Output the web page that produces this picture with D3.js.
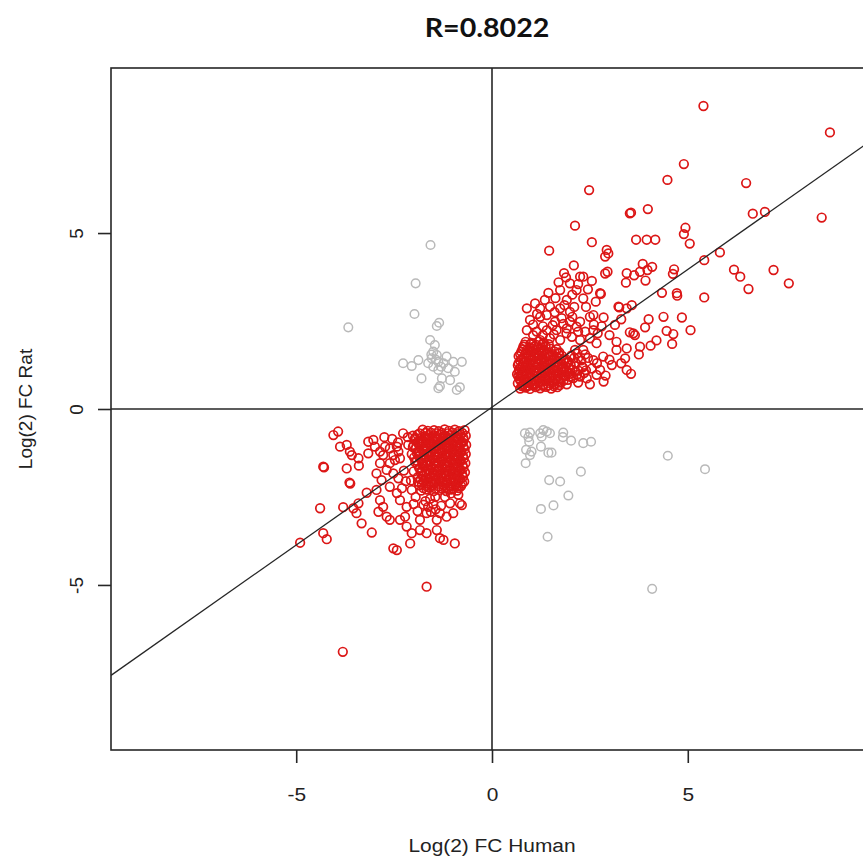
<!DOCTYPE html>
<html>
<head>
<meta charset="utf-8">
<script src="https://cdn.jsdelivr.net/npm/d3@7"></script>
<style>
  body { margin: 0; background: #fff; }
  svg { display: block; }
</style>
</head>
<body>
<svg width="863" height="857"></svg>
<script>
// [log2 FC human, log2 FC rat]
// red = same direction in both species, grey = opposite direction
var upperCore = [
  [0.72,0.58],[0.86,0.61],[0.97,0.57],[1.11,0.62],[1.23,0.59],[1.38,0.63],[1.51,0.58],[1.67,0.62],
  [0.66,0.73],[0.80,0.70],[0.92,0.75],[1.06,0.71],[1.19,0.74],[1.30,0.69],[1.46,0.74],[1.59,0.71],[1.75,0.75],[1.91,0.70],
  [0.70,0.86],[0.83,0.83],[0.95,0.88],[1.09,0.84],[1.20,0.87],[1.36,0.83],[1.47,0.88],[1.63,0.84],[1.76,0.87],[1.94,0.83],[2.08,0.88],
  [0.64,0.99],[0.78,0.96],[0.89,1.00],[1.03,0.97],[1.14,1.01],[1.29,0.96],[1.41,1.00],[1.57,0.97],[1.69,1.01],[1.86,0.96],[1.99,1.00],[2.17,0.97],
  [0.69,1.11],[0.82,1.08],[0.93,1.12],[1.08,1.09],[1.21,1.13],[1.32,1.08],[1.48,1.12],[1.60,1.09],[1.77,1.13],[1.90,1.08],[2.06,1.12],[2.21,1.09],
  [0.66,1.24],[0.79,1.21],[0.90,1.25],[1.05,1.22],[1.16,1.26],[1.31,1.21],[1.43,1.25],[1.59,1.22],[1.71,1.26],[1.88,1.21],[2.01,1.25],
  [0.72,1.37],[0.84,1.34],[0.99,1.38],[1.11,1.35],[1.26,1.38],[1.38,1.34],[1.54,1.38],[1.66,1.35],[1.83,1.38],[1.96,1.34],
  [0.68,1.50],[0.82,1.47],[0.93,1.51],[1.08,1.48],[1.20,1.52],[1.36,1.47],[1.49,1.51],[1.65,1.48],[1.79,1.51],
  [0.75,1.63],[0.87,1.60],[1.02,1.64],[1.14,1.61],[1.30,1.64],[1.43,1.60],[1.59,1.64],[1.72,1.61],
  [0.80,1.77],[0.96,1.74],[1.08,1.78],[1.25,1.75],[1.37,1.78],
  [0.86,1.91],[1.01,1.88],[1.19,1.92],[1.32,1.89],
  [0.76,0.65],[0.90,0.66],[1.02,0.68],[1.16,0.66],[0.74,0.92],[0.87,0.93],[1.00,0.92],[0.76,1.04],
  [0.98,1.05],[1.26,1.04],[0.85,1.17],[1.12,1.18],[0.95,1.30],[1.20,1.31],
  [0.79,0.67],[0.93,0.66],[1.08,0.68],[1.30,0.66],[1.44,0.67],[1.58,0.65],[1.73,0.68],
  [0.73,0.80],[0.87,0.79],[1.00,0.81],[1.13,0.80],[1.26,0.79],[1.40,0.81],[1.53,0.80],[1.69,0.79],[1.83,0.81],
  [0.67,0.93],[1.13,0.92],[1.25,0.94],[1.41,0.93],[1.54,0.92],[1.70,0.94],[1.85,0.93],[2.01,0.92],
  [0.70,1.05],[0.84,1.04],[1.11,1.06],[1.36,1.05],[1.52,1.04],[1.64,1.06],[1.80,1.05],[1.95,1.04],[2.12,1.06],
  [0.73,1.18],[0.99,1.17],[1.27,1.19],[1.39,1.18],[1.54,1.17],[1.67,1.19],[1.83,1.18],[1.97,1.17],
  [0.68,1.30],[0.80,1.31],[1.06,1.29],[1.33,1.30],[1.49,1.31],[1.62,1.29],[1.77,1.30],[1.91,1.31],
  [0.76,1.43],[0.88,1.44],[1.03,1.42],[1.15,1.43],[1.30,1.44],[1.44,1.42],[1.59,1.43],[1.73,1.44],[1.88,1.42],
  [0.72,1.56],[0.86,1.57],[0.99,1.55],[1.13,1.56],[1.27,1.57],[1.41,1.55],[1.55,1.56],[1.70,1.57],
  [0.78,1.70],[0.91,1.69],[1.05,1.71],[1.19,1.70],[1.33,1.69],[1.50,1.71],[1.65,1.70],
  [0.83,1.83],[0.98,1.84],[1.13,1.82],[1.28,1.83],[1.45,1.84],
  [2.25,0.92],[2.32,1.18],[2.14,1.30],[2.28,1.38],[2.10,1.45],[2.40,1.10],[2.18,1.58],[2.03,1.52]
];

var upperScatter = [
  [5.40,8.61],[8.63,7.86],[4.90,6.96],[4.48,6.51],[6.49,6.42],[2.48,6.22],[3.52,5.56],[3.55,5.58],
  [3.98,5.68],[6.66,5.55],[6.97,5.60],[8.42,5.44],[2.12,5.21],[4.94,5.15],[4.90,4.97],[5.05,4.70],
  [2.55,4.74],[3.68,4.81],[3.95,4.81],[4.17,4.81],[2.93,4.52],[2.97,4.42],[2.89,4.33],[2.09,4.08],
  [1.84,3.86],[2.33,3.76],[2.55,3.64],[2.89,3.85],[2.95,3.90],[2.76,3.29],[2.78,3.27],[3.44,3.86],
  [3.42,3.59],[3.63,3.80],[3.85,4.12],[3.78,3.90],[3.97,3.95],[4.09,4.04],[3.92,3.65],[4.65,3.97],
  [4.62,3.84],[5.42,4.23],[5.82,4.45],[6.18,3.96],[6.34,3.76],[6.55,3.41],[7.19,3.95],[7.58,3.57],
  [4.34,3.30],[4.72,3.29],[4.73,3.22],[5.42,3.17],[4.38,2.62],[3.91,2.32],[3.25,2.89],[3.57,2.95],
  [5.07,2.24],[4.46,2.22],[4.63,2.13],[3.52,2.18],[3.65,2.10],[3.14,2.39],[2.59,2.67],
  [1.46,4.50],[1.89,3.74],[1.44,3.30],[2.25,3.76],[1.99,3.57],[1.74,3.38],[2.16,3.38],[1.91,3.10],
  [2.33,3.14],[1.10,3.00],[0.89,2.86],[1.23,2.86],[1.48,2.91],[1.74,2.86],[1.99,2.76],[0.97,2.53],
  [1.23,2.62],[1.40,2.67],[1.61,2.48],[1.78,2.58],[1.99,2.48],[2.25,2.48],[2.50,2.62],[0.89,2.24],
  [1.14,2.20],[1.40,2.24],[1.65,2.24],[1.91,2.29],[2.16,2.34],[2.38,2.20],[2.59,2.24],[1.23,1.96],
  [1.48,2.01],[1.74,1.96],[2.04,2.05],[2.25,1.96],[2.50,2.01],[2.67,1.87],[2.84,1.49],[3.06,1.25],
  [2.59,1.39],[2.33,1.68],[2.12,1.68],[2.76,1.11],[2.42,0.87],[2.67,0.97],[3.44,1.11],[3.40,1.44],
  [3.18,1.68],[3.44,1.72],[3.61,2.15],[3.78,1.77],[3.18,1.91],[3.23,2.91],[3.44,2.86],
  [2.30,1.20],[2.45,1.45],[2.20,0.75],[2.55,1.15],[2.90,0.95],[3.00,1.40],[2.35,1.02],[2.68,1.30],
  [3.30,1.30],[3.55,1.00],[2.50,0.70],[2.85,0.78],[3.75,1.55],[4.05,1.80],[4.20,1.95],[4.60,1.85],
  [2.20,1.45],[2.38,1.55],[3.00,2.10],[2.80,2.35],[4.00,2.55],[4.85,2.60],[3.30,2.55],
  [1.05,2.40],[1.30,2.35],[1.55,2.38],[1.82,2.42],[2.05,2.62],[1.15,2.70],[1.60,2.75],[1.85,2.95],
  [2.10,2.90],[1.35,3.10],[1.62,3.15],[2.05,3.25],[2.45,3.40],[2.20,3.55],[1.70,3.60],[2.40,2.90],
  [2.65,3.05],[2.60,2.40],[2.85,2.60],[2.70,2.15],[1.05,2.10],[1.30,2.10],[1.58,2.12],[1.90,2.15],[2.20,2.20]
];

var lowerCore = [
  [-0.70,-0.60],[-0.84,-0.63],[-0.95,-0.59],[-1.10,-0.62],[-1.21,-0.58],[-1.36,-0.63],[-1.48,-0.60],[-1.64,-0.62],[-1.77,-0.59],
  [-0.67,-0.76],[-0.80,-0.73],[-0.91,-0.77],[-1.06,-0.74],[-1.17,-0.77],[-1.32,-0.73],[-1.44,-0.76],[-1.60,-0.74],[-1.72,-0.77],[-1.90,-0.73],[-2.02,-0.76],
  [-0.72,-0.89],[-0.86,-0.86],[-0.97,-0.90],[-1.12,-0.87],[-1.23,-0.90],[-1.39,-0.86],[-1.51,-0.89],[-1.67,-0.87],[-1.80,-0.90],[-1.97,-0.86],
  [-0.66,-1.02],[-0.79,-0.99],[-0.90,-1.03],[-1.05,-1.00],[-1.16,-1.03],[-1.31,-0.99],[-1.42,-1.02],[-1.58,-1.00],[-1.70,-1.03],[-1.87,-0.99],[-2.00,-1.02],
  [-0.70,-1.15],[-0.84,-1.12],[-0.95,-1.16],[-1.10,-1.13],[-1.21,-1.16],[-1.37,-1.12],[-1.49,-1.15],[-1.65,-1.13],[-1.78,-1.16],[-1.95,-1.12],
  [-0.67,-1.28],[-0.81,-1.25],[-0.92,-1.29],[-1.07,-1.26],[-1.18,-1.29],[-1.34,-1.25],[-1.46,-1.28],[-1.62,-1.26],[-1.75,-1.29],[-1.92,-1.25],[-2.05,-1.28],
  [-0.72,-1.41],[-0.86,-1.38],[-0.97,-1.42],[-1.12,-1.39],[-1.24,-1.42],[-1.40,-1.38],[-1.52,-1.41],[-1.69,-1.39],[-1.82,-1.42],[-1.99,-1.38],
  [-0.68,-1.54],[-0.82,-1.51],[-0.93,-1.55],[-1.08,-1.52],[-1.20,-1.55],[-1.36,-1.51],[-1.48,-1.54],[-1.65,-1.52],[-1.78,-1.55],[-1.96,-1.51],
  [-0.73,-1.67],[-0.87,-1.64],[-0.98,-1.68],[-1.14,-1.65],[-1.26,-1.68],[-1.42,-1.64],[-1.55,-1.67],[-1.72,-1.65],[-1.86,-1.68],
  [-0.69,-1.80],[-0.83,-1.77],[-0.94,-1.81],[-1.10,-1.78],[-1.22,-1.81],[-1.38,-1.77],[-1.51,-1.80],[-1.68,-1.78],[-1.82,-1.81],[-2.00,-1.77],
  [-0.74,-1.93],[-0.88,-1.90],[-1.00,-1.94],[-1.16,-1.91],[-1.28,-1.94],[-1.45,-1.90],[-1.58,-1.93],[-1.76,-1.91],[-1.90,-1.94],
  [-0.71,-2.06],[-0.86,-2.03],[-0.98,-2.07],[-1.14,-2.04],[-1.27,-2.07],[-1.44,-2.03],[-1.57,-2.06],[-1.75,-2.04],[-1.89,-2.07],[-2.07,-2.03],
  [-0.79,-2.19],[-0.93,-2.16],[-1.06,-2.20],[-1.23,-2.17],[-1.36,-2.20],[-1.54,-2.16],[-1.68,-2.19],[-1.86,-2.17],
  [-0.89,-2.32],[-1.04,-2.29],[-1.17,-2.33],[-1.35,-2.30],[-1.49,-2.33],[-1.67,-2.29],[-1.81,-2.32],
  [-1.45,-2.50],[-1.58,-2.55],[-1.70,-2.62],[-1.50,-2.70],[-1.63,-2.78],[-1.44,-2.85],[-1.56,-2.92],[-1.75,-2.72],
  [-0.76,-0.68],[-0.89,-0.69],[-1.01,-0.67],[-1.14,-0.69],[-0.75,-0.95],[-0.88,-0.96],[-1.02,-0.94],[-0.78,-1.21],
  [-1.00,-1.22],[-0.80,-1.47],[-1.03,-1.48],
  [-1.28,-0.68],[-1.42,-0.69],[-1.56,-0.67],[-1.70,-0.68],[-1.85,-0.69],
  [-0.73,-0.82],[-0.86,-0.81],[-0.99,-0.83],[-1.12,-0.82],[-1.25,-0.81],[-1.38,-0.83],[-1.52,-0.82],[-1.66,-0.81],[-1.83,-0.83],[-1.96,-0.82],
  [-1.13,-0.95],[-1.27,-0.96],[-1.46,-0.94],[-1.62,-0.95],[-1.75,-0.96],[-1.91,-0.94],
  [-0.73,-1.08],[-0.86,-1.09],[-1.00,-1.07],[-1.13,-1.08],[-1.26,-1.09],[-1.40,-1.07],[-1.55,-1.08],[-1.71,-1.09],[-1.85,-1.07],[-2.02,-1.08],
  [-0.89,-1.21],[-1.14,-1.22],[-1.28,-1.20],[-1.43,-1.21],[-1.58,-1.22],[-1.72,-1.20],[-1.88,-1.21],
  [-0.74,-1.34],[-0.87,-1.35],[-1.00,-1.33],[-1.14,-1.34],[-1.28,-1.35],[-1.42,-1.33],[-1.57,-1.34],[-1.73,-1.35],[-1.88,-1.33],
  [-0.92,-1.47],[-1.16,-1.48],[-1.30,-1.46],[-1.45,-1.47],[-1.60,-1.48],[-1.76,-1.46],[-1.92,-1.47],
  [-0.75,-1.60],[-0.88,-1.61],[-1.01,-1.59],[-1.15,-1.60],[-1.29,-1.61],[-1.43,-1.59],[-1.58,-1.60],[-1.74,-1.61],[-1.90,-1.59],
  [-0.80,-1.73],[-0.93,-1.74],[-1.06,-1.72],[-1.20,-1.73],[-1.34,-1.74],[-1.48,-1.72],[-1.63,-1.73],[-1.79,-1.74],
  [-0.76,-1.86],[-0.89,-1.87],[-1.03,-1.85],[-1.17,-1.86],[-1.31,-1.87],[-1.46,-1.85],[-1.61,-1.86],[-1.77,-1.87],
  [-0.80,-1.99],[-0.94,-2.00],[-1.08,-1.98],[-1.22,-1.99],[-1.36,-2.00],[-1.51,-1.98],[-1.66,-1.99],[-1.82,-2.00],
  [-0.76,-2.12],[-0.90,-2.13],[-1.04,-2.11],[-1.19,-2.12],[-1.33,-2.13],[-1.48,-2.11],[-1.63,-2.12],[-1.79,-2.13],
  [-0.85,-2.25],[-0.99,-2.26],[-1.13,-2.24],[-1.29,-2.25],[-1.44,-2.26],[-1.59,-2.24],[-1.75,-2.25]
];

var lowerScatter = [
  [-4.05,-0.74],[-3.93,-0.64],[-3.88,-1.07],[-3.71,-1.02],[-3.63,-1.21],[-3.58,-1.31],[-3.41,-1.40],[-4.31,-1.64],
  [-4.29,-1.66],[-3.71,-1.69],[-3.40,-1.61],[-3.64,-2.09],[-3.62,-2.12],[-4.39,-2.82],[-4.90,-3.80],[-4.31,-3.53],
  [-4.22,-3.70],[-3.80,-2.79],[-3.54,-2.82],[-3.41,-2.68],[-3.46,-2.96],[-3.33,-3.25],[-3.07,-3.51],[-3.20,-2.38],
  [-2.95,-2.30],[-2.86,-2.59],[-2.78,-2.78],[-2.69,-3.06],[-2.61,-3.15],[-2.90,-2.92],[-3.16,-0.93],[-3.03,-0.88],
  [-2.99,-1.07],[-2.86,-1.21],[-3.16,-1.26],[-2.78,-1.31],[-2.73,-1.07],[-2.61,-1.12],[-2.43,-1.07],[-2.52,-1.31],
  [-2.39,-1.21],[-2.27,-0.69],[-2.14,-1.02],[-2.35,-1.40],[-2.48,-1.45],[-2.61,-1.54],[-2.69,-1.73],[-2.86,-1.54],
  [-2.95,-1.83],[-2.82,-2.02],[-2.52,-1.83],[-2.39,-1.97],[-2.61,-2.21],[-2.43,-2.39],[-2.35,-2.59],[-2.18,-2.78],
  [-2.22,-3.06],[-2.35,-3.15],[-2.18,-3.34],[-2.05,-3.53],[-2.09,-3.82],[-2.52,-3.96],[-2.43,-4.01],[-1.84,-3.44],
  [-1.67,-3.53],[-1.41,-3.44],[-1.33,-3.67],[-1.24,-3.72],[-0.95,-3.82],[-1.16,-3.06],[-0.99,-2.96],[-0.82,-2.68],
  [-1.07,-2.68],[-1.41,-3.15],[-1.33,-2.96],[-1.67,-2.96],[-1.84,-3.15],[-1.67,-5.05],[-3.81,-6.90],[-0.77,-2.73],
  [-0.86,-2.44],[-2.05,-2.30],[-1.95,-2.50],[-2.00,-2.70],[-1.90,-2.90],[-1.20,-2.50],[-1.05,-2.40],[-0.90,-2.20],
  [-1.30,-2.75],[-2.25,-1.75],[-2.20,-2.05],[-2.30,-2.25],[-2.40,-0.95],[-2.55,-0.85],[-2.15,-0.80],[-2.75,-0.80]
];

var discordant = [
  [-1.98,2.70],[-3.67,2.32],[-1.41,2.36],[-1.35,2.45],[-1.58,1.96],[-1.46,1.82],[-1.50,1.63],[-1.41,1.53],
  [-1.54,1.44],[-1.63,1.30],[-1.37,1.34],[-1.16,1.49],[-1.24,1.30],[-0.99,1.34],[-0.77,1.34],[-1.12,1.16],
  [-0.95,1.06],[-1.50,1.20],[-1.37,1.11],[-1.88,1.39],[-2.05,1.22],[-2.27,1.30],[-1.80,0.87],[-1.28,0.87],
  [-1.07,0.82],[-1.37,0.59],[-1.33,0.65],[-0.90,0.54],[-0.82,0.62],[-1.57,4.66],[-1.95,3.57],[-1.43,1.40],
  [-1.30,1.20],[-1.55,1.55],
  [0.84,-0.69],[0.97,-0.67],[0.93,-0.80],[0.95,-0.93],[0.87,-1.16],[1.01,-1.21],[0.97,-1.31],[0.86,-1.54],
  [1.23,-0.69],[1.31,-0.60],[1.40,-0.64],[1.27,-0.79],[1.48,-0.69],[1.25,-1.07],[1.44,-1.24],[1.52,-1.24],
  [1.82,-0.67],[1.81,-0.80],[2.02,-0.90],[2.33,-0.97],[2.53,-0.93],[2.27,-1.78],[1.46,-2.02],[1.74,-2.06],
  [1.95,-2.46],[1.25,-2.84],[1.57,-2.74],[1.42,-3.63],[4.49,-1.33],[5.44,-1.71],[4.09,-5.11]
];

var fitIntercept = 0.05;
var fitSlope = 0.783;
var xTicks = [-5, 0, 5];
var yTicks = [-5, 0, 5];
var titleText = "R=0.8022";
var xTitle = "Log(2) FC Human";
var yTitle = "Log(2) FC Rat";

function drawChart() {
  var svg = d3.select("svg");
  var plotLeft = 111, plotRight = 873, plotTop = 68, plotBottom = 750;
  var stretch = 1.1;   // the picture is a bit wider than tall

  var x = d3.scaleLinear().domain([-9.73, 9.73]).range([plotLeft, plotRight]);
  var y = d3.scaleLinear().domain([-9.69, 9.69]).range([plotBottom, plotTop]);

  var ink = "#262626";
  var font = "'Liberation Sans', Arial, sans-serif";

  svg.append("defs").append("clipPath").attr("id", "plotclip")
    .append("rect")
      .attr("x", plotLeft).attr("y", plotTop)
      .attr("width", plotRight - plotLeft).attr("height", plotBottom - plotTop);

  // title
  svg.append("text")
    .attr("transform", "translate(487,37) scale(" + stretch + ",1)")
    .attr("text-anchor", "middle")
    .style("font-family", "Lato, 'Open Sans', sans-serif")
    .style("font-weight", "bold")
    .style("font-size", "26px")
    .attr("fill", "#111")
    .text(titleText);

  // points
  var plot = svg.append("g").attr("clip-path", "url(#plotclip)");

  plot.append("g").selectAll("circle")
    .data(discordant)
    .enter().append("circle")
      .attr("cx", function(d) { return x(d[0]); })
      .attr("cy", function(d) { return y(d[1]); })
      .attr("r", 4.3)
      .attr("fill", "none")
      .attr("stroke", "#b9b9b9")
      .attr("stroke-width", 1.5);

  var red = upperScatter.concat(lowerScatter, upperCore, lowerCore);
  plot.append("g").selectAll("circle")
    .data(red)
    .enter().append("circle")
      .attr("cx", function(d) { return x(d[0]); })
      .attr("cy", function(d) { return y(d[1]); })
      .attr("r", 4.3)
      .attr("fill", "none")
      .attr("stroke", "#dc1616")
      .attr("stroke-width", 1.7);

  // zero lines and fitted line
  plot.append("line")
    .attr("x1", x(0)).attr("x2", x(0))
    .attr("y1", plotTop).attr("y2", plotBottom)
    .attr("stroke", ink).attr("stroke-width", 1.6);
  plot.append("line")
    .attr("x1", plotLeft).attr("x2", plotRight)
    .attr("y1", y(0)).attr("y2", y(0))
    .attr("stroke", ink).attr("stroke-width", 1.6);

  var xd = x.domain();
  plot.append("line")
    .attr("x1", x(xd[0])).attr("y1", y(fitIntercept + fitSlope * xd[0]))
    .attr("x2", x(xd[1])).attr("y2", y(fitIntercept + fitSlope * xd[1]))
    .attr("stroke", ink).attr("stroke-width", 1.3);

  // frame
  svg.append("rect")
    .attr("x", plotLeft).attr("y", plotTop)
    .attr("width", plotRight - plotLeft).attr("height", plotBottom - plotTop)
    .attr("fill", "none")
    .attr("stroke", ink).attr("stroke-width", 1.6);

  // axes
  var xAxis = svg.append("g")
    .attr("transform", "translate(0," + plotBottom + ")")
    .call(d3.axisBottom(x).tickValues(xTicks).tickSize(13).tickFormat(String));
  xAxis.select(".domain").remove();
  xAxis.selectAll("line").attr("stroke", ink).attr("stroke-width", 1.6);
  xAxis.selectAll("text")
    .attr("y", null).attr("dy", null)
    .attr("transform", "translate(0,51) scale(" + stretch + ",1)")
    .attr("fill", "#222")
    .style("font-family", font)
    .style("font-size", "19px");

  var yAxis = svg.append("g")
    .attr("transform", "translate(" + plotLeft + ",0)")
    .call(d3.axisLeft(y).tickValues(yTicks).tickSize(13).tickFormat(String));
  yAxis.select(".domain").remove();
  yAxis.selectAll("line").attr("stroke", ink).attr("stroke-width", 1.6);
  yAxis.selectAll("text")
    .attr("x", null).attr("dy", null)
    .attr("text-anchor", "middle")
    .attr("transform", "translate(-28,0) rotate(-90)")
    .attr("fill", "#222")
    .style("font-family", font)
    .style("font-size", "19px");

  // axis titles
  svg.append("text")
    .attr("transform", "translate(" + x(0) + ",852) scale(" + stretch + ",1)")
    .attr("text-anchor", "middle")
    .attr("fill", "#222")
    .style("font-family", font)
    .style("font-size", "19px")
    .text(xTitle);

  svg.append("text")
    .attr("transform", "translate(32," + ((plotTop + plotBottom) / 2) + ") rotate(-90)")
    .attr("text-anchor", "middle")
    .attr("fill", "#222")
    .style("font-family", font)
    .style("font-size", "19px")
    .text(yTitle);
}

drawChart();
</script>
</body>
</html>
